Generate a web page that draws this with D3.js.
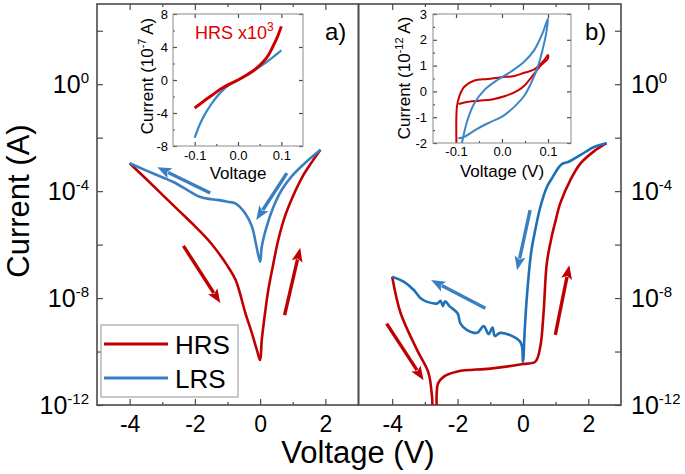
<!DOCTYPE html>
<html>
<head>
<meta charset="utf-8">
<script src="https://cdnjs.cloudflare.com/ajax/libs/d3/7.8.5/d3.min.js"></script>
<style>
    body { margin: 0; background: #fff; }
    svg { display: block; font-family: 'Liberation Sans', Arial, sans-serif; }
</style>
</head>
<body>
<div id="chart"></div>
<script>
// ---- data (voltage in V, current in A) ----

// panel a)
const aHrsV = [-4, -3.5, -3, -2.5, -2, -1.5, -1, -0.75, -0.45, -0.25, -0.1, 0,
    0.05, 0.15, 0.25, 0.4, 0.55, 0.75, 1.0, 1.3, 1.6, 1.85];
const aHrsI = [1.1e-3, 2.9e-4, 7.4e-5, 1.9e-5, 4.9e-6, 1.1e-6, 1.6e-7, 4.7e-8, 2.7e-9, 4.8e-10, 1.15e-10, 4.8e-11,
    2.7e-10, 2.7e-9, 2.0e-8, 1.8e-7, 1.4e-6, 1.05e-5, 6.2e-5, 3.5e-4, 1.3e-3, 3.5e-3];

const aLrsV = [-4, -3.5, -3, -2.66, -2.2, -1.83, -1.5, -1.32, -1.0, -0.76, -0.46, -0.25, -0.13, 0,
    0.05, 0.2, 0.41, 0.66, 0.96, 1.37, 1.85];
const aLrsI = [1.1e-3, 6.0e-4, 3.3e-4, 2.2e-4, 1.05e-4, 6.0e-5, 5.0e-5, 4.7e-5, 4.0e-5, 3.5e-5, 1.5e-5, 4.7e-6, 1.1e-6, 2.3e-7,
    8.3e-7, 4.7e-6, 2.6e-5, 1.1e-4, 3.5e-4, 1.1e-3, 3.5e-3];

// panel b)
const bHrsV = [-4, -3.74, -3.24, -2.89, -2.78, -2.74, -2.67, -2.64, -2.6, -2.42, -2.0, -1.0, 0, 0.38,
    0.53, 0.63, 0.73, 0.88, 1.0, 1.14, 1.45, 1.75, 2.16, 2.56];
const bHrsI = [6.3e-8, 2.7e-9, 1.15e-10, 1.6e-11, 2.0e-12, 5e-13, 5e-13, 2.5e-12, 6.3e-12, 1.15e-11, 1.8e-11, 2.3e-11, 3.4e-11, 4.2e-11,
    1.5e-10, 2.7e-9, 2.0e-7, 2.0e-6, 7.9e-6, 3.5e-5, 2.6e-4, 1.05e-3, 3.0e-3, 6.2e-3];

const bLrsV = [2.56, 2.16, 1.75, 1.4, 1.2, 1.09, 0.9, 0.73, 0.53, 0.37, 0.25, 0.12, 0.05, 0,
    -0.08, -0.69, -0.86, -0.93, -1.05, -1.2, -1.4, -1.71, -1.91, -2.0,
    -2.25, -2.38, -2.45, -2.52, -2.62, -2.93, -3.13, -3.34, -3.65, -4.0];
const bLrsI = [6.2e-3, 4.4e-3, 2.2e-3, 1.26e-3, 1.05e-3, 7.6e-4, 3.2e-4, 1.4e-4, 2.5e-5, 3.2e-6, 5.0e-7, 1.1e-8, 5.0e-10, 4.2e-11,
    2.3e-10, 5.0e-10, 3.8e-10, 7.9e-10, 4.5e-10, 8.9e-10, 5.0e-10, 6.3e-10, 1.1e-9, 2.7e-9,
    5.0e-9, 7.6e-9, 5.0e-9, 7.9e-9, 6.3e-9, 7.2e-9, 9.8e-9, 2.0e-8, 4.1e-8, 6.3e-8];

// sweep-direction arrows: [V, I] at tail and at tip
const aArrows = [
    { series: 'LRS', from: [-1.53, 8.5e-5], to: [-3.15, 7.9e-4] },
    { series: 'LRS', from: [0.82, 4.7e-4], to: [-0.12, 8.3e-6] },
    { series: 'HRS', from: [-2.35, 8.9e-7], to: [-1.22, 6.5e-9] },
    { series: 'HRS', from: [0.75, 2.3e-9], to: [1.23, 7.6e-7] }
];
const bArrows = [
    { series: 'LRS', from: [0.22, 1.95e-5], to: [-0.18, 1.1e-7] },
    { series: 'LRS', from: [-1.15, 4.2e-9], to: [-2.81, 4.7e-8] },
    { series: 'HRS', from: [-4.17, 1.1e-9], to: [-3.04, 8.5e-12] },
    { series: 'HRS', from: [0.99, 4.2e-10], to: [1.42, 1.7e-7] }
];

// inset a) current in 1e-7 A (HRS scaled x1e3)
const insetAV = [-0.1, -0.08, -0.06, -0.04, -0.02, 0, 0.02, 0.04, 0.06, 0.07, 0.08, 0.09, 0.1];
const insetAHrs = [-3.4, -2.6, -1.85, -1.1, -0.5, 0, 0.6, 1.3, 2.3, 3.0, 4.0, 5.1, 6.5];
const insetALrsV = [-0.1, -0.09, -0.08, -0.07, -0.06, -0.04, -0.02, 0, 0.02, 0.04, 0.06, 0.08, 0.1];
const insetALrs = [-7.0, -5.6, -4.5, -3.6, -2.8, -1.5, -0.6, 0, 0.6, 1.25, 1.95, 2.75, 3.6];

// inset b) current in 1e-12 A
const insetBHrsV = [-0.099, -0.098, -0.093, -0.082, -0.06, -0.031, -0.002, 0.027, 0.048, 0.07, 0.092, 0.1,
    0.1, 0.085, 0.079, 0.065, 0.05, 0.036, 0.007, -0.022, -0.05, -0.079, -0.094];
const insetBHrsI = [-2.1, -0.59, -0.2, 0.18, 0.42, 0.48, 0.55, 0.6, 0.72, 0.85, 1.22, 1.41,
    1.28, 1.02, 0.89, 0.57, 0.25, 0.05, -0.18, -0.31, -0.36, -0.42, -0.49];
const insetBLrsV = [-0.088, -0.085, -0.075, -0.06, -0.038, -0.01, 0.019, 0.048, 0.07, 0.088, 0.1,
    0.096, 0.088, 0.078, 0.063, 0.048, 0.027, 0.002, -0.024, -0.053, -0.082, -0.095];
const insetBLrsI = [-2.1, -1.82, -1.11, -0.46, 0.06, 0.44, 0.76, 1.15, 1.6, 2.25, 2.83,
    2.25, 1.6, 0.96, 0.31, -0.18, -0.59, -0.96, -1.18, -1.44, -1.76, -1.82];

// ticks
const xTicks = [-4, -2, 0, 2];
const xMinorTicks = [-3, -1, 1];
const yLabelExps = [0, -4, -8, -12];
const insetXTicks = [-0.1, 0, 0.1];
const insetXMinor = [-0.05, 0.05];
const insetATicks = [-8, -4, 0, 4, 8];
const insetAMinor = [-6, -2, 2, 6];
const insetBTicks = [-2, -1, 0, 1, 2, 3];
const insetBMinor = [-1.5, -0.5, 0.5, 1.5, 2.5];

// ---- layout ----
const colors = { HRS: '#c00000', LRS: '#3a7fc1' };
const frameColor = '#4a4a4a';

const svg = d3.select('#chart')
    .append('svg')
    .attr('width', 685)
    .attr('height', 474);

const panelA = { left: 97, right: 358.5 };
const panelB = { left: 358.5, right: 621 };
const plotTop = 4, plotBottom = 405;

const xA = d3.scaleLinear().domain([-5, 3]).range([97, 358]);
const xB = d3.scaleLinear().domain([-5, 3]).range([359.5, 621]);
const y = d3.scaleLog().domain([1e-12, 1e3]).range([plotBottom, plotTop]);

const allY = y.ticks();
const isDecade = v => Math.abs(Math.log10(v) - Math.round(Math.log10(v))) < 1e-6;
const yMajor = allY.filter(isDecade);
const yMinor = allY.filter(v => !isDecade(v));

const defs = svg.append('defs');
[['clipA', panelA], ['clipB', panelB]].forEach(([id, p]) => {
    defs.append('clipPath').attr('id', id)
        .append('rect')
        .attr('x', p.left).attr('y', plotTop)
        .attr('width', p.right - p.left).attr('height', plotBottom - plotTop);
});

function styleAxis(g, fontSize) {
    g.select('.domain').remove();
    g.selectAll('line').attr('stroke', frameColor).attr('stroke-width', 1.2);
    g.selectAll('text').attr('font-size', fontSize).attr('fill', '#000')
        .attr('font-family', "'Liberation Sans', Arial, sans-serif");
}

function addAxis(gen, tx, ty, fontSize) {
    svg.append('g')
        .attr('transform', `translate(${tx},${ty})`)
        .call(gen)
        .call(g => styleAxis(g, fontSize || 12));
}

// x axes (bottom labelled, top mirrored)
[xA, xB].forEach(x => {
    addAxis(d3.axisBottom(x).tickValues(xTicks).tickSizeInner(-6).tickSizeOuter(0)
        .tickPadding(11).tickFormat(d => String(d)), 0, plotBottom, 23);
    addAxis(d3.axisBottom(x).tickValues(xMinorTicks).tickSizeInner(-3).tickSizeOuter(0)
        .tickFormat(''), 0, plotBottom);
    addAxis(d3.axisTop(x).tickValues(xTicks).tickSizeInner(-6).tickSizeOuter(0)
        .tickFormat(''), 0, plotTop);
    addAxis(d3.axisTop(x).tickValues(xMinorTicks).tickSizeInner(-3).tickSizeOuter(0)
        .tickFormat(''), 0, plotTop);
});

// y axes: left of a), right of b)
addAxis(d3.axisLeft(y).tickValues(yMajor).tickSizeInner(-6).tickSizeOuter(0).tickFormat(''), panelA.left, 0);
addAxis(d3.axisLeft(y).tickValues(yMinor).tickSizeInner(-3).tickSizeOuter(0).tickFormat(''), panelA.left, 0);
addAxis(d3.axisRight(y).tickValues(yMajor).tickSizeInner(-6).tickSizeOuter(0).tickFormat(''), panelB.right, 0);
addAxis(d3.axisRight(y).tickValues(yMinor).tickSizeInner(-3).tickSizeOuter(0).tickFormat(''), panelB.right, 0);

function powerLabel(x, e, anchor) {
    const t = svg.append('text')
        .attr('x', x)
        .attr('y', y(Math.pow(10, e)) + 8.5)
        .attr('text-anchor', anchor)
        .attr('font-size', 25);
    t.append('tspan').text('10');
    t.append('tspan').attr('font-size', 15).attr('dy', -10).text(String(e));
}
yLabelExps.forEach(e => {
    powerLabel(89, e, 'end');
    powerLabel(631, e, 'start');
});

// frames
[panelA, panelB].forEach(p => {
    svg.append('rect')
        .attr('x', p.left).attr('y', plotTop)
        .attr('width', p.right - p.left).attr('height', plotBottom - plotTop)
        .attr('fill', 'none')
        .attr('stroke', frameColor)
        .attr('stroke-width', 1.6);
});

// curves
const lineFor = x => d3.line()
    .curve(d3.curveCatmullRom.alpha(0.5))
    .x(d => x(d[0]))
    .y(d => y(d[1]));

function drawCurve(x, clip, vs, is, color, width) {
    svg.append('path')
        .datum(d3.zip(vs, is))
        .attr('clip-path', `url(#${clip})`)
        .attr('fill', 'none')
        .attr('stroke', color)
        .attr('stroke-width', width)
        .attr('stroke-linejoin', 'round')
        .attr('d', lineFor(x));
}

drawCurve(xA, 'clipA', aHrsV, aHrsI, colors.HRS, 2.6);
drawCurve(xA, 'clipA', aLrsV, aLrsI, colors.LRS, 2.6);
drawCurve(xB, 'clipB', bHrsV, bHrsI, colors.HRS, 2.6);
drawCurve(xB, 'clipB', bLrsV, bLrsI, '#1f70b8', 2.6);

// arrows
function drawArrow(x, a) {
    const color = colors[a.series];
    const x0 = x(a.from[0]), y0 = y(a.from[1]);
    const x1 = x(a.to[0]), y1 = y(a.to[1]);
    const len = Math.hypot(x1 - x0, y1 - y0);
    const ux = (x1 - x0) / len, uy = (y1 - y0) / len;
    const head = 14, half = 5.5;
    const bx = x1 - ux * head, by = y1 - uy * head;
    svg.append('line')
        .attr('x1', x0).attr('y1', y0)
        .attr('x2', bx + ux * 2).attr('y2', by + uy * 2)
        .attr('stroke', color)
        .attr('stroke-width', 3.4);
    svg.append('path')
        .attr('d', `M${x1},${y1}L${bx - uy * half},${by + ux * half}L${bx + ux * 3},${by + uy * 3}L${bx + uy * half},${by - ux * half}Z`)
        .attr('fill', color);
}
aArrows.forEach(a => drawArrow(xA, a));
bArrows.forEach(a => drawArrow(xB, a));

// panel tags
svg.append('text').attr('x', 325).attr('y', 40).attr('font-size', 24).text('a)');
svg.append('text').attr('x', 585).attr('y', 40).attr('font-size', 24).text('b)');

// axis titles
svg.append('text')
    .attr('x', 358).attr('y', 463)
    .attr('text-anchor', 'middle')
    .attr('font-size', 31)
    .text('Voltage (V)');
svg.append('text')
    .attr('transform', 'translate(29,201) rotate(-90)')
    .attr('text-anchor', 'middle')
    .attr('font-size', 31)
    .text('Current (A)');

// legend
const legend = svg.append('g');
legend.append('rect')
    .attr('x', 101).attr('y', 325)
    .attr('width', 137).attr('height', 72)
    .attr('fill', '#fff')
    .attr('stroke', '#a6a6a6')
    .attr('stroke-width', 1.2);
[['HRS', 344], ['LRS', 378]].forEach(([name, ly]) => {
    legend.append('line')
        .attr('x1', 104).attr('x2', 168)
        .attr('y1', ly).attr('y2', ly)
        .attr('stroke', colors[name])
        .attr('stroke-width', 3);
    legend.append('text')
        .attr('x', 175).attr('y', ly + 9.5)
        .attr('font-size', 26)
        .text(name);
});

// ---- insets ----
function drawInset(cfg) {
    const x = d3.scaleLinear().domain([-0.15, 0.15]).range([cfg.left, cfg.right]);
    const yi = d3.scaleLinear().domain(cfg.yDomain).range([cfg.bottom, cfg.top]);
    const id = cfg.id;

    svg.append('rect')
        .attr('x', cfg.left).attr('y', cfg.top)
        .attr('width', cfg.right - cfg.left).attr('height', cfg.bottom - cfg.top)
        .attr('fill', '#fff');

    defs.append('clipPath').attr('id', id)
        .append('rect')
        .attr('x', cfg.left).attr('y', cfg.top)
        .attr('width', cfg.right - cfg.left).attr('height', cfg.bottom - cfg.top);

    addAxis(d3.axisBottom(x).tickValues(insetXTicks).tickSizeInner(-4).tickSizeOuter(0)
        .tickPadding(cfg.xPad).tickFormat(d => d.toFixed(1)), 0, cfg.bottom, 13);
    addAxis(d3.axisBottom(x).tickValues(insetXMinor).tickSizeInner(-2).tickSizeOuter(0)
        .tickFormat(''), 0, cfg.bottom);
    addAxis(d3.axisTop(x).tickValues(insetXTicks).tickSizeInner(-4).tickSizeOuter(0)
        .tickFormat(''), 0, cfg.top);
    addAxis(d3.axisLeft(yi).tickValues(cfg.yTicks).tickSizeInner(-4).tickSizeOuter(0)
        .tickPadding(cfg.yPad).tickFormat(d => String(d)), cfg.left, 0, 13);
    addAxis(d3.axisLeft(yi).tickValues(cfg.yMinor).tickSizeInner(-2).tickSizeOuter(0)
        .tickFormat(''), cfg.left, 0);
    addAxis(d3.axisRight(yi).tickValues(cfg.yTicks).tickSizeInner(-4).tickSizeOuter(0)
        .tickFormat(''), cfg.right, 0);

    const line = d3.line()
        .curve(d3.curveCatmullRom.alpha(0.5))
        .x(d => x(d[0]))
        .y(d => yi(d[1]));

    cfg.series.forEach(s => {
        svg.append('path')
            .datum(d3.zip(s.v, s.i))
            .attr('clip-path', `url(#${id})`)
            .attr('fill', 'none')
            .attr('stroke', s.color)
            .attr('stroke-width', s.width)
            .attr('stroke-linejoin', 'round')
            .attr('d', line);
    });

    svg.append('rect')
        .attr('x', cfg.left).attr('y', cfg.top)
        .attr('width', cfg.right - cfg.left).attr('height', cfg.bottom - cfg.top)
        .attr('fill', 'none')
        .attr('stroke', '#8a8a8a')
        .attr('stroke-width', 1);

    // titles
    svg.append('text')
        .attr('x', (cfg.left + cfg.right) / 2).attr('y', cfg.xTitleY)
        .attr('text-anchor', 'middle')
        .attr('font-size', 17)
        .text(cfg.xTitle);
    const yt = svg.append('text')
        .attr('transform', `translate(${cfg.yTitleX},${cfg.yTitleY}) rotate(-90)`)
        .attr('text-anchor', 'middle')
        .attr('font-size', 17);
    yt.append('tspan').text('Current (10');
    yt.append('tspan').attr('font-size', 11).attr('dy', -7).text(cfg.yExp);
    yt.append('tspan').attr('dy', 7).text(' A)');
}

drawInset({
    id: 'insetA', left: 173, right: 303, top: 14, bottom: 146,
    yDomain: [-8, 8], yTicks: insetATicks, yMinor: insetAMinor,
    xPad: 5, yPad: 5,
    xTitle: 'Voltage', xTitleY: 179,
    yTitleX: 153, yTitleY: 76, yExp: '-7',
    series: [
        { v: insetALrsV, i: insetALrs, color: '#3a86c8', width: 2.2 },
        { v: insetAV, i: insetAHrs, color: '#cc0000', width: 3 }
    ]
});

drawInset({
    id: 'insetB', left: 433, right: 571, top: 14, bottom: 143,
    yDomain: [-2, 3], yTicks: insetBTicks, yMinor: insetBMinor,
    xPad: 4, yPad: 6,
    xTitle: 'Voltage (V)', xTitleY: 177,
    yTitleX: 410, yTitleY: 78, yExp: '-12',
    series: [
        { v: insetBHrsV, i: insetBHrsI, color: '#cc0000', width: 2 },
        { v: insetBLrsV, i: insetBLrsI, color: '#3a86c8', width: 2 }
    ]
});

const hrsTag = svg.append('text')
    .attr('x', 195).attr('y', 39)
    .attr('font-size', 18)
    .attr('fill', '#e00000');
hrsTag.append('tspan').text('HRS x10');
hrsTag.append('tspan').attr('font-size', 12).attr('dy', -8).text('3');
</script>
</body>
</html>
